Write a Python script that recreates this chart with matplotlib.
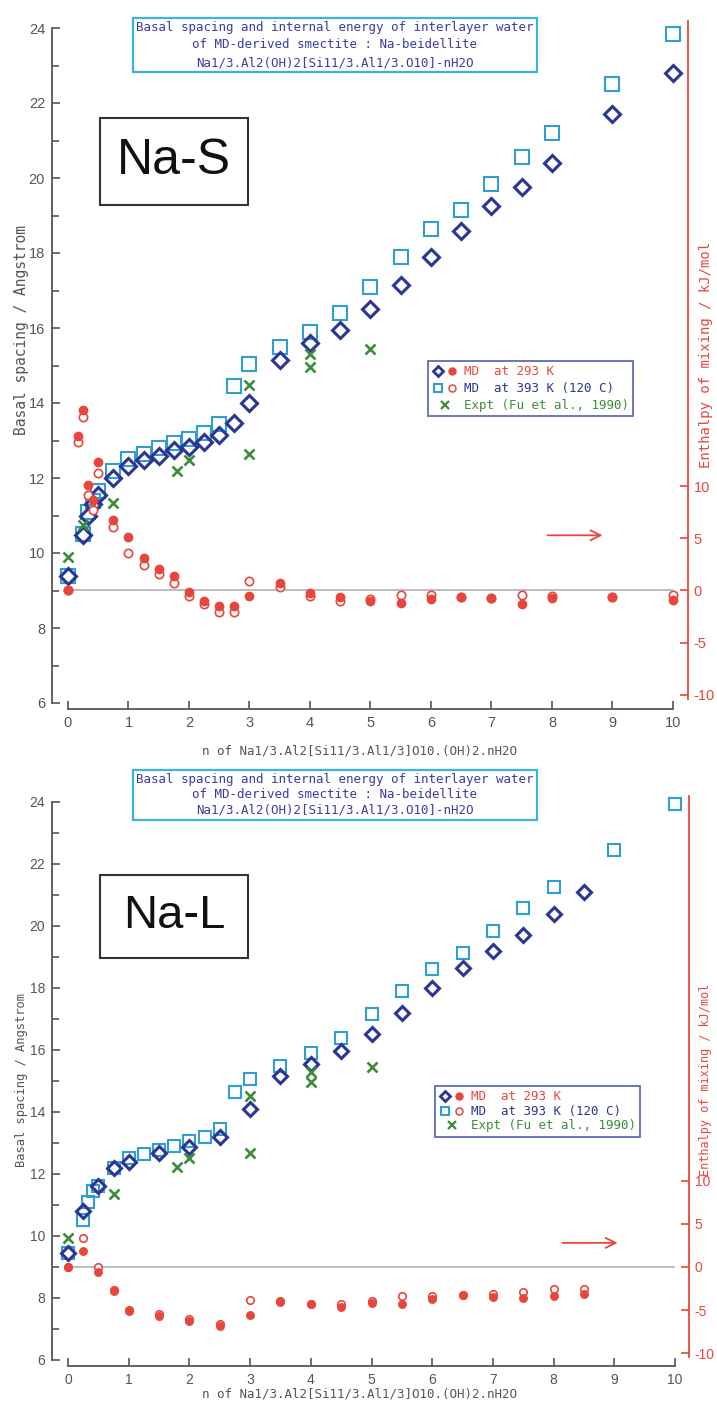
import matplotlib
matplotlib.use("Agg")
import matplotlib.pyplot as plt
from matplotlib.lines import Line2D
from matplotlib.patches import Rectangle
from matplotlib.legend_handler import HandlerTuple

plt.rcParams["axes.unicode_minus"] = False

# ---------------- data ----------------
# Na-S : basal spacing (Angstrom) vs n
ns_x_293 = [0, 0.25, 1/3, 5/12, 0.5, 0.75, 1, 1.25, 1.5, 1.75, 2, 2.25, 2.5, 2.75, 3,
            3.5, 4, 4.5, 5, 5.5, 6, 6.5, 7, 7.5, 8, 9, 10]
ns_d_293 = [9.4, 10.48, 11.0, 11.3, 11.55, 12.0, 12.32, 12.48, 12.59, 12.75, 12.83, 12.96,
            13.15, 13.47, 14.0, 15.15, 15.6, 15.95, 16.5, 17.15, 17.9, 18.6, 19.25, 19.75,
            20.4, 21.7, 22.8]
ns_x_393 = [0, 0.25, 1/3, 5/12, 0.5, 0.75, 1, 1.25, 1.5, 1.75, 2, 2.25, 2.5, 2.75, 3,
            3.5, 4, 4.5, 5, 5.5, 6, 6.5, 7, 7.5, 8, 9, 10]
ns_d_393 = [9.4, 10.5, 11.1, 11.4, 11.65, 12.2, 12.5, 12.64, 12.8, 12.94, 13.04, 13.2,
            13.44, 14.45, 15.04, 15.5, 15.9, 16.4, 17.1, 17.9, 18.65, 19.15, 19.85, 20.55,
            21.2, 22.5, 23.85]
ns_ex_x = [0, 0.25, 0.75, 1.8, 2.0, 3.0, 3.0, 4.0, 4.0, 5.0]
ns_ex_y = [9.9, 10.75, 11.33, 12.2, 12.49, 14.48, 12.64, 15.3, 14.96, 15.45]
# Na-S : enthalpy of mixing (kJ/mol)
ns_h_x = [0, 1/6, 0.25, 1/3, 5/12, 0.5, 0.75, 1, 1.25, 1.5, 1.75, 2, 2.25, 2.5, 2.75, 3,
          3.5, 4, 4.5, 5, 5.5, 6, 6.5, 7, 7.5, 8, 9, 10]
ns_h_293 = [0.0, 14.8, 17.3, 10.1, 8.65, 12.3, 6.8, 5.1, 3.1, 2.1, 1.4, -0.1, -1.0, -1.45,
            -1.45, -0.5, 0.7, -0.2, -0.6, -1.0, -1.2, -0.8, -0.6, -0.7, -1.3, -0.7, -0.6, -0.9]
ns_h_393 = [0.0, 14.3, 16.7, 9.2, 7.7, 11.3, 6.1, 3.6, 2.4, 1.6, 0.7, -0.5, -1.3, -2.1,
            -2.1, 0.9, 0.3, -0.5, -1.0, -0.8, -0.4, -0.4, -0.6, -0.7, -0.4, -0.5, -0.6, -0.4]

# Na-L : basal spacing (Angstrom) vs n
nl_x_293 = [0, 0.25, 0.5, 0.75, 1, 1.5, 2, 2.5, 3, 3.5, 4, 4.5, 5, 5.5, 6, 6.5, 7, 7.5, 8, 8.5]
nl_d_293 = [9.45, 10.8, 11.6, 12.2, 12.4, 12.67, 12.87, 13.2, 14.1, 15.16, 15.55, 15.97,
            16.5, 17.2, 18.0, 18.65, 19.2, 19.7, 20.4, 21.1]
nl_x_393 = [0, 0.25, 1/3, 5/12, 0.5, 0.75, 1, 1.25, 1.5, 1.75, 2, 2.25, 2.5, 2.75, 3,
            3.5, 4, 4.5, 5, 5.5, 6, 6.5, 7, 7.5, 8, 9, 10]
nl_d_393 = [9.45, 10.5, 11.1, 11.45, 11.6, 12.2, 12.5, 12.63, 12.77, 12.9, 13.06, 13.2,
            13.45, 14.65, 15.06, 15.48, 15.9, 16.4, 17.16, 17.9, 18.6, 19.13, 19.84, 20.58,
            21.26, 22.45, 23.94]
nl_ex_x = [0, 0.75, 1.8, 2.0, 3.0, 3.0, 4.0, 4.0, 5.0]
nl_ex_y = [9.93, 11.35, 12.23, 12.5, 12.67, 14.5, 14.97, 15.3, 15.45]
# Na-L : enthalpy of mixing (kJ/mol)
nl_h_x = [0, 0.25, 0.5, 0.75, 1, 1.5, 2, 2.5, 3, 3.5, 4, 4.5, 5, 5.5, 6, 6.5, 7, 7.5, 8, 8.5]
nl_h_293 = [0.0, 1.9, -0.6, -2.8, -5.1, -5.7, -6.3, -6.9, -5.6, -4.1, -4.3, -4.6, -4.2,
            -4.3, -3.7, -3.3, -3.5, -3.6, -3.4, -3.1]
nl_h_393 = [0.0, 3.4, 0.0, -2.7, -5.0, -5.5, -6.0, -6.6, -3.8, -3.9, -4.3, -4.3, -4.0,
            -3.4, -3.4, -3.3, -3.1, -2.9, -2.6, -2.6]

x_ticks = list(range(0, 11))
y_ticks = list(range(6, 25, 2))
h_ticks = [-10, -5, 0, 5, 10]

title_lines = ["Basal spacing and internal energy of interlayer water",
               "of MD-derived smectite : Na-beidellite",
               "Na1/3.Al2(OH)2[Si11/3.Al1/3.O10]-nH2O"]
legend_labels = ["MD  at 293 K", "MD  at 393 K (120 C)", "Expt (Fu et al., 1990)"]
x_label = "n of Na1/3.Al2[Si11/3.Al1/3]O10.(OH)2.nH2O"
y_label = "Basal spacing / Angstrom"
h_label = "Enthalpy of mixing / kJ/mol"

# ---------------- style ----------------
NAVY = "#2b3592"
SKY = "#2f9fd2"
GREEN = "#3b8c3b"
RED = "#e8463c"
GREY = "#555555"
TITLE_C = "#3a3aa6"
TITLE_EDGE = "#3ab2dc"
MONO = ["DejaVu Sans Mono"]
NARROW = ["Liberation Sans Narrow", "Liberation Sans", "DejaVu Sans"]

W, H = 717, 1405
fig = plt.figure(figsize=(W / 100, H / 100), dpi=100)


def fx(px):
    return px / W


def fy(py):
    return 1 - py / H


def box(l, t, r, b, color, lw):
    fig.add_artist(Rectangle((fx(l), fy(b)), fx(r - l), (b - t) / H,
                             transform=fig.transFigure, fill=False,
                             edgecolor=color, linewidth=lw))


def panel(lay, x293, d293, x393, d393, exx, exy, hx, h293, h393, tag):
    l, t, r, b = lay["axes"]
    ax = fig.add_axes([fx(l), fy(b), fx(r - l), (b - t) / H])
    ax.set_xlim(*lay["xlim"])
    ax.set_ylim(*lay["ylim"])
    ax.patch.set_alpha(0)

    ms = lay["ms"]
    ax.plot(x393, d393, ls="none", marker="s", ms=ms * 0.95, mfc="none", mec=SKY, mew=1.5,
            zorder=3)
    ax.plot(x293, d293, ls="none", marker="D", ms=ms * 0.8, mfc="none", mec=NAVY, mew=2.2,
            zorder=4)
    ax.plot(exx, exy, ls="none", marker="x", ms=ms * 0.75, mec=GREEN, mew=1.9, zorder=4)

    for side in ("top", "right"):
        ax.spines[side].set_visible(False)
    ax.spines["left"].set_bounds(6, 24)
    ax.spines["bottom"].set_bounds(0, 10)
    for side in ("left", "bottom"):
        ax.spines[side].set_color(GREY)
        ax.spines[side].set_linewidth(1.3)
    ax.set_xticks(x_ticks)
    ax.set_yticks(y_ticks)
    ax.set_yticks(range(7, 24, 2), minor=True)
    ax.tick_params(axis="both", which="both", direction="in", color=GREY, width=1.2,
                   labelcolor=GREY, labelsize=lay["tick_fs"])
    ax.tick_params(axis="both", which="major", length=6, pad=5)
    ax.tick_params(axis="y", which="minor", length=5)
    for lab in ax.get_xticklabels() + ax.get_yticklabels():
        lab.set_family(NARROW)

    # enthalpy axis on the right
    ax2 = ax.twinx()
    ax2.set_ylim((lay["ylim"][0] - 9) * 3.6, (lay["ylim"][1] - 9) * 3.6)
    for side in ("left", "top", "bottom"):
        ax2.spines[side].set_visible(False)
    ax2.spines["right"].set_color(RED)
    ax2.spines["right"].set_linewidth(1.3)
    ax2.spines["right"].set_bounds(-10.4, ax2.get_ylim()[1])
    ax2.set_yticks(h_ticks)
    ax2.tick_params(axis="y", direction="in", color=RED, labelcolor=RED, width=1.2,
                    length=6, pad=4, labelsize=lay["tick_fs"])
    for lab in ax2.get_yticklabels():
        lab.set_family(NARROW)
    ax2.hlines(0, 0, 10, color="#aaaaaa", lw=1.1, zorder=1)
    ax2.plot(hx, h393, ls="none", marker="o", ms=ms * 0.6, mfc="white", mec=RED, mew=1.2,
             zorder=3)
    ax2.plot(hx, h293, ls="none", marker="o", ms=ms * 0.6, mfc=RED, mec=RED, zorder=4)
    ax2.annotate("", xy=lay["arrow"][1], xytext=lay["arrow"][0],
                 arrowprops=dict(arrowstyle="->", color=RED, lw=1.3, mutation_scale=18))

    # axis titles
    fig.text(fx(lay["xlab"][0]), fy(lay["xlab"][1]), x_label, ha="center", va="center",
             color=GREY, fontsize=9, family=MONO)
    fig.text(fx(lay["ylab"][0]), fy(lay["ylab"][1]), y_label, ha="center", va="center",
             rotation=90, color=GREY, fontsize=lay["ylab_fs"], family=MONO)
    fig.text(fx(lay["hlab"][0]), fy(lay["hlab"][1]), h_label, ha="center", va="center",
             rotation=90, color=RED, fontsize=lay["hlab_fs"], family=MONO)

    # title block
    bl, bt, br, bb = lay["title_box"]
    box(bl, bt, br, bb, TITLE_EDGE, 1.6)
    fig.text(fx((bl + br) / 2), fy((bt + bb) / 2), "\n".join(title_lines), ha="center",
             va="center", multialignment="center", color=TITLE_C, fontsize=9,
             linespacing=lay["title_ls"], family=MONO)

    # sample tag
    tl, tt, tr, tb = lay["tag_box"]
    box(tl, tt, tr, tb, "#333333", 1.5)
    fig.text(fx((tl + tr) / 2), fy((tt + tb) / 2), tag, ha="center", va="center",
             fontsize=lay["tag_fs"], family=["Liberation Sans", "DejaVu Sans"], color="#111111")

    # legend
    handles = [
        (Line2D([], [], ls="none", marker="D", ms=5.5, mfc="none", mec=NAVY, mew=2.0),
         Line2D([], [], ls="none", marker="o", ms=5, mfc=RED, mec=RED)),
        (Line2D([], [], ls="none", marker="s", ms=6, mfc="none", mec=SKY, mew=1.5),
         Line2D([], [], ls="none", marker="o", ms=5, mfc="white", mec=RED, mew=1.1)),
        Line2D([], [], ls="none", marker="x", ms=6, mec=GREEN, mew=1.6),
    ]
    ll, lt = lay["legend"]
    leg = ax.legend(handles, legend_labels, loc="upper left",
                    bbox_to_anchor=(fx(ll), fy(lt)), bbox_transform=fig.transFigure,
                    handler_map={tuple: HandlerTuple(ndivide=None, pad=0.3)},
                    prop={"family": MONO, "size": 9}, frameon=True, fancybox=False,
                    borderpad=0.35, handlelength=2.0, handletextpad=0.5,
                    labelspacing=lay["leg_sp"], borderaxespad=0)
    leg.get_frame().set_edgecolor("#3b47a6")
    leg.get_frame().set_linewidth(1.3)
    for txt, c in zip(leg.get_texts(), [RED, NAVY, GREEN]):
        txt.set_color(c)
    leg.set_zorder(10)
    return ax


top_layout = dict(axes=(52, 20.5, 688, 709), xlim=(-0.264, 10.248), ylim=(5.84, 24.2),
                  ms=10, tick_fs=10.5, xlab=(360, 751), ylab=(22, 330), ylab_fs=10.5,
                  hlab=(706, 355), hlab_fs=10, title_box=(133, 18, 537, 72), title_ls=1.45,
                  tag_box=(100, 118, 248, 205), tag_fs=36, legend=(428, 361), leg_sp=0.3,
                  arrow=((7.88, 5.3), (8.88, 5.3)))
bottom_layout = dict(axes=(52, 796, 689, 1366), xlim=(-0.264, 10.23), ylim=(5.806, 24.19),
                     ms=9, tick_fs=10, xlab=(360, 1394), ylab=(22, 1080), ylab_fs=8.7,
                     hlab=(706, 1080), hlab_fs=8.5, title_box=(133, 770, 537, 820),
                     title_ls=1.25, tag_box=(100, 875, 248, 958), tag_fs=34,
                     legend=(435, 1086), leg_sp=0.12,
                     arrow=((8.1, 2.8), (9.1, 2.8)))

panel(top_layout, ns_x_293, ns_d_293, ns_x_393, ns_d_393, ns_ex_x, ns_ex_y,
      ns_h_x, ns_h_293, ns_h_393, "Na-S")
panel(bottom_layout, nl_x_293, nl_d_293, nl_x_393, nl_d_393, nl_ex_x, nl_ex_y,
      nl_h_x, nl_h_293, nl_h_393, "Na-L")

fig.savefig("out.png", dpi=100, facecolor="white")
